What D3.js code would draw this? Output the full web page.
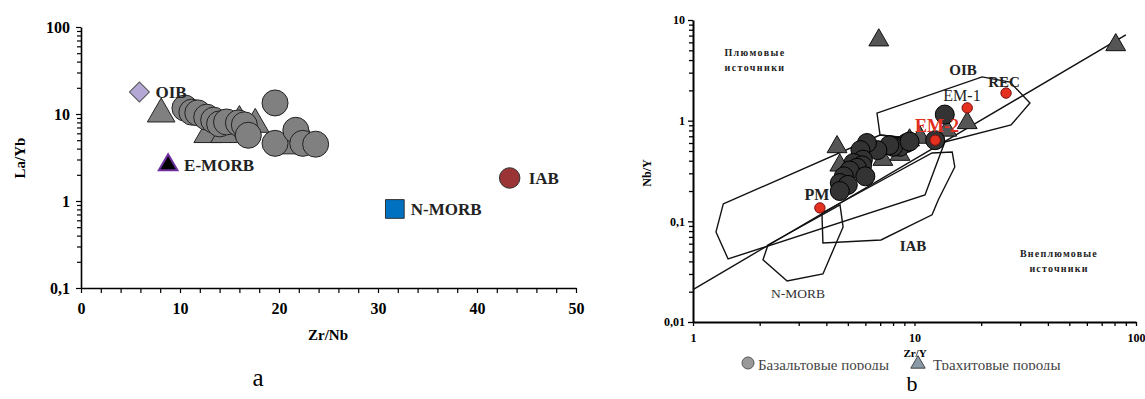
<!DOCTYPE html>
<html>
<head>
<meta charset="utf-8">
<script src="https://cdn.jsdelivr.net/npm/d3@7/dist/d3.min.js"></script>
<style>
  body { margin: 0; background: #fff; }
  svg text { font-family: "Liberation Serif", "Times New Roman", serif; }
</style>
</head>
<body>
<div id="chart"></div>
<script>
// ---- panel a data: Zr/Nb vs La/Yb
const basaltA = [[10.5,11.7],[11.2,10.5],[11.8,10.3],[12.7,9.2],[13.4,8.5],[14.0,7.7],[14.7,8.1],
  [15.9,7.9],[16.5,7.5],[16.9,5.7],[19.6,13.4],[19.6,4.6],[21.7,6.5],[22.4,4.6],[23.7,4.5]]
const trachyteA = [[8.1,10],[12.8,5.8],[14.5,5.8],[16,8.2],[17.6,7.6],[21,4.3],[23,4.3]]
const refA = [
  {name: 'OIB', x: 5.9, y: 17.9},
  {name: 'E-MORB', x: 8.8, y: 2.6},
  {name: 'IAB', x: 43.3, y: 1.84},
  {name: 'N-MORB', x: 31.7, y: 0.81}
]
const xTicksA = [0, 10, 20, 30, 40, 50]
const yTicksA = [0.1, 1, 10, 100]

// ---- panel b data: Zr/Y vs Nb/Y
const basaltB = [[13.7,1.15],[9.2,0.6],[8.6,0.55],[8.0,0.55],[7.7,0.57],[6.8,0.51],[6.1,0.6],[5.7,0.51],
  [9.5,0.62],[5.85,0.41],[5.3,0.38],[5.8,0.36],[5.5,0.34],[5.1,0.32],[6.0,0.28],[4.8,0.28],
  [4.6,0.24],[5.0,0.23],[4.6,0.2],[12.4,0.64]]
const trachyteB = [[6.9,6.3],[81,5.65],[4.47,0.548],[17.3,0.95],[4.6,0.36],[7.2,0.41],
  [8.6,0.46],[9.5,0.64],[10.6,0.68],[14,0.8]]
const refB = [
  {name: 'PM', x: 3.74, y: 0.136},
  {name: 'EM-2', x: 12.4, y: 0.64},
  {name: 'EM-1', x: 17.3, y: 1.34},
  {name: 'REC', x: 25.9, y: 1.88}
]
const fieldOIB = [[6.77,1.19],[20.2,2.72],[27.0,2.42],[33.2,1.50],[27.3,0.906],[13.7,0.614],[6.99,0.72]]
const fieldLong = [[1.37,0.149],[6.99,0.72],[13.7,0.614],[11.15,0.183],[1.44,0.0423],[1.27,0.0785]]
const fieldIAB = [[3.82,0.121],[12.0,0.478],[14.8,0.489],[15.2,0.347],[12.8,0.163],[12.0,0.116],[7.06,0.0653],[3.86,0.061]]
const fieldNMORB = [[2.18,0.0583],[2.07,0.0414],[2.66,0.0256],[3.86,0.030],[4.76,0.088],[4.61,0.146]]
const deltaNb = [[1,0.021],[90,7.1]]
const xTicksB = [1, 10, 100]
const yTicksB = [0.01, 0.1, 1, 10]

const fmt = d => String(d).replace('.', ',')
const minorLog = (lo, hi) => {
  const out = []
  for (let p = lo; p < hi; p *= 10) for (let k = 2; k <= 9; k++) out.push(p * k)
  return out
}

const svg = d3.select('#chart').append('svg')
  .attr('width', 1145)
  .attr('height', 399)

// ================= panel a =================
const xA = d3.scaleLinear().domain([0, 50]).range([81, 576])
const yA = d3.scaleLog().domain([0.1, 100]).range([288, 27])
const ga = svg.append('g')

const axA = ga.append('g').attr('transform', 'translate(0,288)')
  .call(d3.axisBottom(xA).tickValues(d3.range(0, 51, 2)).tickSize(5).tickSizeOuter(0)
    .tickFormat(d => xTicksA.includes(d) ? d : ''))
axA.selectAll('text').attr('dy', '1.1em').style('font-size', '16px').style('font-weight', 'bold')

const ayA = ga.append('g').attr('transform', 'translate(81,0)')
  .call(d3.axisLeft(yA).tickValues(yTicksA).tickSize(5).tickSizeOuter(0).tickFormat(fmt))
ayA.selectAll('text').attr('x', -11).style('font-size', '16px').style('font-weight', 'bold')
ga.append('g').attr('transform', 'translate(81,0)')
  .call(d3.axisLeft(yA).tickValues(minorLog(0.1, 100)).tickSize(4).tickFormat(''))
  .select('.domain').remove()
ga.selectAll('.domain').attr('stroke-width', 1.6)
ga.selectAll('.tick line').attr('stroke-width', 1.2)

ga.append('text').attr('transform', 'translate(25,158) rotate(-90)')
  .attr('text-anchor', 'middle').style('font-size', '15px').style('font-weight', 'bold').text('La/Yb')
ga.append('text').attr('x', 328).attr('y', 340)
  .attr('text-anchor', 'middle').style('font-size', '15px').style('font-weight', 'bold').text('Zr/Nb')
ga.append('text').attr('x', 258).attr('y', 386)
  .attr('text-anchor', 'middle').style('font-size', '25px').text('a')

ga.selectAll('.triA').data(trachyteA).enter().append('path')
  .attr('d', d3.symbol(d3.symbolTriangle, 330))
  .attr('transform', d => `translate(${xA(d[0])},${yA(d[1])})`)
  .attr('fill', '#808080').attr('stroke', '#222').attr('stroke-width', 1)
ga.selectAll('.cirA').data(basaltA).enter().append('circle')
  .attr('cx', d => xA(d[0])).attr('cy', d => yA(d[1])).attr('r', 13)
  .attr('fill', '#808080').attr('stroke', '#222').attr('stroke-width', 1)

const symA = {
  'OIB': {shape: d3.symbolSquare, size: 200, rot: 45, fill: '#b4a7d6', stroke: '#555', sw: 1},
  'E-MORB': {shape: d3.symbolTriangle, size: 150, rot: 0, fill: '#000', stroke: '#7030a0', sw: 2},
  'IAB': {shape: d3.symbolCircle, size: 330, rot: 0, fill: '#9b3535', stroke: '#333', sw: 1},
  'N-MORB': {shape: d3.symbolSquare, size: 350, rot: 0, fill: '#0070c0', stroke: '#333', sw: 1}
}
const refGA = ga.selectAll('.refA').data(refA).enter().append('g')
  .attr('transform', d => `translate(${xA(d.x)},${yA(d.y)})`)
refGA.append('path')
  .attr('d', d => d3.symbol(symA[d.name].shape, symA[d.name].size)())
  .attr('transform', d => `rotate(${symA[d.name].rot})`)
  .attr('fill', d => symA[d.name].fill).attr('stroke', d => symA[d.name].stroke)
  .attr('stroke-width', d => symA[d.name].sw)
refGA.append('text').attr('x', d => d.name === 'IAB' ? 19 : 16).attr('y', 6)
  .style('font-size', '17px').style('font-weight', 'bold').attr('fill', '#222').text(d => d.name)

// ================= panel b =================
const xB = d3.scaleLog().domain([1, 100]).range([693, 1136])
const yB = d3.scaleLog().domain([0.01, 10]).range([322, 20])
const gb = svg.append('g')

const axB = gb.append('g').attr('transform', 'translate(0,322)')
  .call(d3.axisBottom(xB).tickValues(xTicksB).tickSize(4).tickSizeOuter(0).tickFormat(d => d))
axB.selectAll('text').attr('dy', '1.05em').style('font-size', '12px').style('font-weight', 'bold')
gb.append('g').attr('transform', 'translate(0,322)')
  .call(d3.axisBottom(xB).tickValues(minorLog(1, 100)).tickSize(4).tickFormat(''))
  .select('.domain').remove()
const ayB = gb.append('g').attr('transform', 'translate(693,0)')
  .call(d3.axisLeft(yB).tickValues(yTicksB).tickSize(5).tickSizeOuter(0).tickFormat(fmt))
ayB.selectAll('text').attr('x', -8).style('font-size', '12px').style('font-weight', 'bold')
gb.append('g').attr('transform', 'translate(693,0)')
  .call(d3.axisLeft(yB).tickValues(minorLog(0.01, 10)).tickSize(4).tickFormat(''))
  .select('.domain').remove()
gb.selectAll('.domain').attr('stroke-width', 2)
gb.selectAll('.tick line').attr('stroke-width', 1.3)

gb.append('text').attr('transform', 'translate(651,173) rotate(-90)')
  .attr('text-anchor', 'middle').style('font-size', '12px').style('font-weight', 'bold').text('Nb/Y')
gb.append('text').attr('x', 915).attr('y', 357)
  .attr('text-anchor', 'middle').style('font-size', '11px').style('font-weight', 'bold').text('Zr/Y')

const lineB = d3.line().x(d => xB(d[0])).y(d => yB(d[1]))
gb.append('path').attr('d', lineB(deltaNb)).attr('fill', 'none').attr('stroke', '#111').attr('stroke-width', 1.4)
for (const f of [fieldOIB, fieldLong, fieldIAB, fieldNMORB]) {
  gb.append('path').attr('d', lineB(f) + 'Z')
    .attr('fill', 'none').attr('stroke', '#111').attr('stroke-width', 1.4)
}

const note = (x, y, lines, size, weight, color, ls) => {
  lines.forEach((t, i) => {
    gb.append('text').attr('x', x).attr('y', y + i * 15)
      .attr('text-anchor', 'middle').style('font-size', size + 'px')
      .style('font-weight', weight).style('letter-spacing', ls + 'px')
      .attr('fill', color).text(t)
  })
}
note(755, 56, ['Плюмовые', 'источники'], 10, 'bold', '#222', 1.4)
note(1059, 257, ['Внеплюмовые', 'источники'], 10, 'bold', '#222', 1.2)

gb.selectAll('.triB').data(trachyteB).enter().append('path')
  .attr('d', d3.symbol(d3.symbolTriangle, 170))
  .attr('transform', d => `translate(${xB(d[0])},${yB(d[1])})`)
  .attr('fill', '#555').attr('stroke', '#111').attr('stroke-width', 1)
gb.selectAll('.cirB').data(basaltB).enter().append('circle')
  .attr('cx', d => xB(d[0])).attr('cy', d => yB(d[1])).attr('r', 9.5)
  .attr('fill', '#333').attr('stroke', '#000').attr('stroke-width', 1)
gb.selectAll('.refB').data(refB).enter().append('circle')
  .attr('cx', d => xB(d.x)).attr('cy', d => yB(d.y)).attr('r', 5.2)
  .attr('fill', '#e3301f').attr('stroke', '#7a1010').attr('stroke-width', 1)

const labB = [
  {t: 'OIB', x: 963, y: 75, s: 15, w: 'bold', c: '#222'},
  {t: 'REC', x: 1004, y: 87, s: 15, w: 'bold', c: '#222'},
  {t: 'EM-1', x: 962, y: 101, s: 16, w: 'normal', c: '#222'},
  {t: 'EM-2', x: 937, y: 132, s: 18, w: 'bold', c: '#e3301f'},
  {t: 'PM', x: 817, y: 200, s: 16, w: 'bold', c: '#222'},
  {t: 'IAB', x: 913, y: 251, s: 15, w: 'bold', c: '#222'},
  {t: 'N-MORB', x: 798, y: 298, s: 13.5, w: 'normal', c: '#333'}
]
gb.selectAll('.labB').data(labB).enter().append('text')
  .attr('x', d => d.x).attr('y', d => d.y).attr('text-anchor', 'middle')
  .style('font-size', d => d.s + 'px').style('font-weight', d => d.w)
  .attr('fill', d => d.c).text(d => d.t)

// legend (bottom cut off, as in the source image)
svg.append('clipPath').attr('id', 'legclip').append('rect')
  .attr('x', 700).attr('y', 340).attr('width', 445).attr('height', 30)
const leg = svg.append('g').attr('clip-path', 'url(#legclip)')
leg.append('circle').attr('cx', 748).attr('cy', 363).attr('r', 6)
  .attr('fill', '#999').attr('stroke', '#555')
leg.append('text').attr('x', 758).attr('y', 370).style('font-size', '15px').attr('fill', '#444')
  .text('Базальтовые породы')
leg.append('path').attr('d', d3.symbol(d3.symbolTriangle, 90)())
  .attr('transform', 'translate(918,364)').attr('fill', '#8a9aa8').attr('stroke', '#444')
leg.append('text').attr('x', 933).attr('y', 370).style('font-size', '15px').attr('fill', '#444')
  .text('Трахитовые породы')

svg.append('text').attr('x', 912).attr('y', 391).attr('text-anchor', 'middle')
  .style('font-size', '22px').text('b')
</script>
</body>
</html>
